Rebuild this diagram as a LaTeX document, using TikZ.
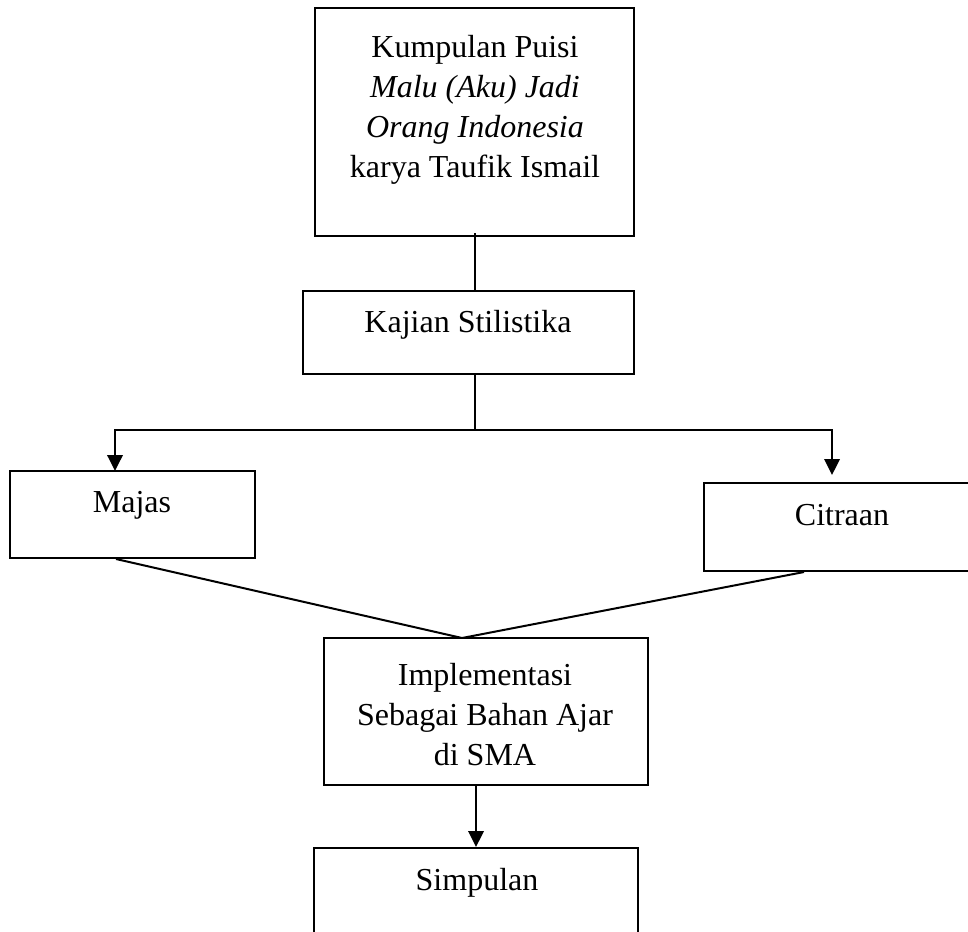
\documentclass[tikz,border=0pt]{standalone}
\usepackage{fontspec}
\setmainfont{Liberation Serif}
\usetikzlibrary{arrows.meta}

\begin{document}
\begin{tikzpicture}[x=0.375pt, y=-0.375pt,
        box/.style={draw, black, line width=0.75pt, inner sep=0pt},
        txt/.style={align=center, font=\fontsize{12}{15}\selectfont},
        link/.style={line width=0.75pt},
        arr/.style={line width=0.75pt, -{Triangle[width=5.8pt, length=6pt]}}]
    \useasboundingbox (0,0) rectangle (968,931);
    \node[box, minimum width=319*0.375pt, minimum height=228*0.375pt] (puisi) at (474.5,122) {};
    \node[box, minimum width=331*0.375pt, minimum height=83*0.375pt] (kajian) at (468.5,332.5) {};
    \node[box, minimum width=245*0.375pt, minimum height=87*0.375pt] (majas) at (132.5,514.5) {};
    \node[box, minimum width=268*0.375pt, minimum height=88*0.375pt] (citraan) at (838,527) {};
    \node[box, minimum width=324*0.375pt, minimum height=147*0.375pt] (implementasi) at (486,711.5) {};
    \node[box, minimum width=324*0.375pt, minimum height=96*0.375pt] (simpulan) at (476,896) {};
    \node[txt] (tpuisi) at (475,110) {Kumpulan Puisi\\ \textit{Malu (Aku) Jadi}\\ \textit{Orang Indonesia}\\ karya Taufik Ismail};
    \node[txt] (tkajian) at (468,325) {Kajian Stilistika};
    \node[txt] (tmajas) at (132,505) {Majas};
    \node[txt] (tcitraan) at (842,515) {Citraan};
    \node[txt] (timplementasi) at (485,715) {Implementasi\\ Sebagai Bahan Ajar\\ di SMA};
    \node[txt] (tsimpulan) at (477,883) {Simpulan};
    \coordinate (split) at (474.5,430);
    \coordinate (toMajas) at (115,471);
    \coordinate (toCitraan) at (832,475);
    \coordinate (join) at (462,638);
    \draw[link] (puisi.south) ++(0,-4) -- (puisi.south |- kajian.north);
    \draw[link] (puisi.south |- kajian.south) -- (split);
    \draw[arr] (split) -| (toMajas);
    \draw[arr] (split) -| (toCitraan);
    \draw[link] (majas.south west) ++(107,0) -- (join);
    \draw[link] (citraan.south west) ++(101,0) -- (join);
    \draw[arr] (simpulan.north |- implementasi.south) -- (simpulan.north);
\end{tikzpicture}
\end{document}
